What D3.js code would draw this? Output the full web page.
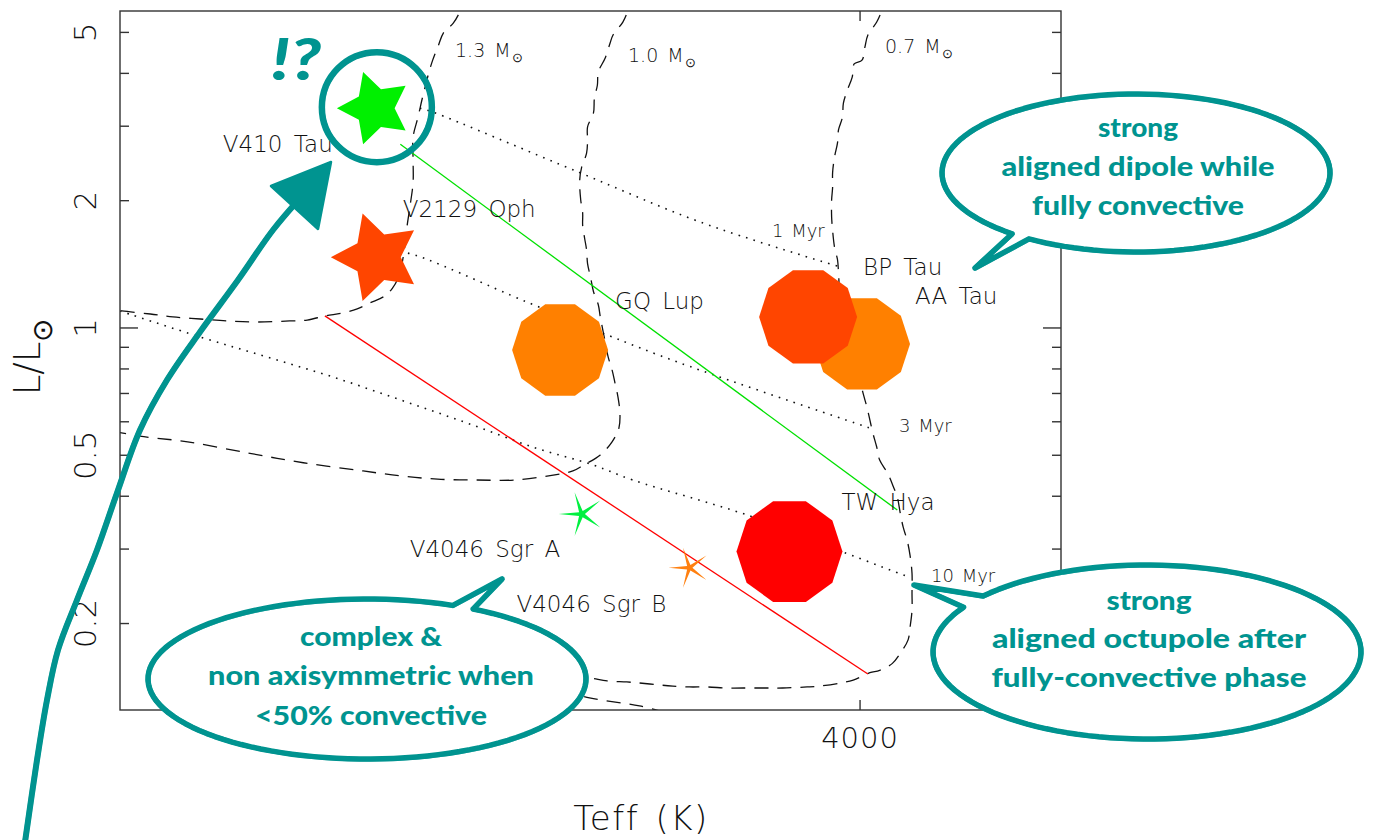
<!DOCTYPE html>
<html><head><meta charset="utf-8">
<script src="https://cdn.jsdelivr.net/npm/d3@7"></script>
<style>body{margin:0;background:#fff}svg{display:block}</style>
</head><body>
<svg id="c" width="1373" height="840"></svg>
<script>
// ================= DATA =================
const yTickValues = [0.2,0.3,0.4,0.5,0.6,0.7,0.8,0.9,1,2,3,4,5];
const yTickLabels = ["0.2","0.5","1","2","5"];
const yMajorTicks = [1];
const xTickValues = [4000];
const xTickLabels = ["4000"];

// stars: name, Teff (K), L/Lsun
const starNames = ["AA Tau","BP Tau","GQ Lup","TW Hya","V410 Tau","V2129 Oph","V4046 Sgr A","V4046 Sgr B"];
const starTeff  = [3998, 4053, 4306, 4072, 4495, 4493, 4284, 4174];
const starLum   = [0.917, 1.062, 0.887, 0.296, 3.31, 1.47, 0.363, 0.271];
const starShape = ["poly","poly","poly","poly","star","star","thin","thin"];
const starColor = ["#ff8000","#ff4500","#ff8000","#ff0000","#00f000","#ff4500","#00f040","#ff8010"];

// evolutionary tracks [Teff, L]
const trackLabels = ["1.3 M","1.0 M","0.7 M"];
const track13 = [[4403,6.2],[4408,5.62],[4415,5.26],[4425,4.99],[4430,4.67],[4436,4.30],[4440,4.01],[4444,3.69],[4447,3.46],[4451,3.15],[4456,2.83],[4456,2.50],[4456,2.21],[4459,1.95],[4462,1.75],[4465,1.53],[4470,1.335],[4477,1.243],[4485,1.19],[4500,1.146],[4513,1.109],[4528,1.085],[4546,1.068],[4564,1.044],[4582,1.039],[4615,1.033],[4645,1.039],[4673,1.050],[4701,1.062],[4724,1.079],[4753,1.097],[4770,1.11]];
const track10 = [[4232,6.2],[4237,5.62],[4242,5.29],[4252,4.93],[4255,4.72],[4260,4.35],[4267,4.03],[4268,3.75],[4271,3.50],[4272,3.22],[4278,2.99],[4278,2.78],[4279,2.59],[4284,2.40],[4286,2.24],[4285,2.01],[4283,1.87],[4283,1.75],[4281,1.63],[4279,1.53],[4278,1.42],[4275,1.32],[4272,1.22],[4267,1.133],[4265,1.062],[4261,0.952],[4257,0.854],[4253,0.796],[4250,0.741],[4247,0.687],[4245,0.630],[4246,0.580],[4253,0.538],[4265,0.501],[4282,0.474],[4293,0.459],[4313,0.449],[4352,0.437],[4391,0.437],[4431,0.439],[4469,0.447],[4507,0.459],[4568,0.480],[4624,0.506],[4686,0.538],[4735,0.555],[4770,0.575]];
const track07 = [[3973,6.2],[3978,5.62],[3983,5.29],[3992,4.93],[3995,4.62],[3998,4.30],[4006,4.21],[4008,3.92],[4013,3.65],[4017,3.40],[4018,3.15],[4022,2.94],[4023,2.74],[4026,2.54],[4028,2.33],[4028,2.15],[4029,2.01],[4029,1.83],[4028,1.70],[4026,1.55],[4023,1.45],[4022,1.357],[4020,1.165],[4012,0.989],[4005,0.840],[3997,0.702],[3993,0.650],[3990,0.606],[3987,0.565],[3983,0.523],[3980,0.487],[3972,0.454],[3966,0.421],[3962,0.398],[3959,0.365],[3956,0.338],[3952,0.315],[3949,0.290],[3947,0.263],[3947,0.236],[3947,0.215],[3949,0.196],[3951,0.183],[3959,0.170],[3967,0.161],[3980,0.155],[3990,0.153],[4007,0.147],[4020,0.1447],[4041,0.1423],[4054,0.1416],[4079,0.1408],[4095,0.1408],[4119,0.1408],[4136,0.1408],[4156,0.1416],[4174,0.1416],[4191,0.1423],[4204,0.1431],[4225,0.1447],[4238,0.1455],[4258,0.1463],[4276,0.1487],[4306,0.1511],[4347,0.155]];
const trackLow = [[4327,0.143],[4276,0.1334],[4225,0.1277],[4194,0.1223]];

// isochrones [Teff, L]
const isoLabels = ["1 Myr","3 Myr","10 Myr"];
const iso1  = [[4449,3.31],[4436,3.24],[4286,2.33],[4163,1.78],[4023,1.40]];
const iso3  = [[4469,1.497],[4462,1.504],[4340,1.152],[4258,0.963],[4184,0.827],[3990,0.580]];
const iso10 = [[4755,1.097],[4673,0.952],[4605,0.854],[4538,0.766],[4469,0.676],[4401,0.596],[4334,0.523],[4272,0.474],[4232,0.437],[4115,0.361],[4017,0.295],[3951,0.258]];

// straight reference lines [Teff, L]
const greenLine = [[4469,2.72],[3962,0.371]];
const redLine   = [[4546,1.068],[3992,0.152]];

// annotation texts
const bubbleTR = ["strong","aligned dipole while","fully convective"];
const bubbleBR = ["strong","aligned octupole after","fully-convective phase"];
const bubbleBL = ["complex &","non axisymmetric when","<50% convective"];

// ================= LAYOUT / STYLE =================
const TEAL = "#009490";
const FR = {l:120, r:1061, t:11, b:710};
const LABEL_FONT = "'DejaVu Sans', 'Liberation Sans', sans-serif";
const NOTE_FONT = "Lato, 'Open Sans', sans-serif";
const markerSize = [48, 49, 48, 53, 38, 46, 23, 21];
const labelOffset = [[53,-40],[55,-42],[55,-41],[52,-42],[-152,44],[26,-40],[-172,43],[-173,44]];
const trackLabelPos = [[455,57],[628,62],[885,53]];
const isoLabelPos = [[772,237],[899,432],[931,582]];

const svg = d3.select("#c");
const x = d3.scaleLinear().domain([4755,3795]).range([FR.l, FR.r]);
const y = d3.scaleLog().domain([0.1249,5.618]).range([FR.b, FR.t]);

svg.append("defs").append("clipPath").attr("id","plot")
  .append("rect").attr("x",FR.l).attr("y",FR.t).attr("width",FR.r-FR.l).attr("height",FR.b-FR.t);

const line = d3.line().x(d=>x(d[0])).y(d=>y(d[1])).curve(d3.curveCatmullRom.alpha(0.5));
const plot = svg.append("g").attr("clip-path","url(#plot)");

[track13, track10, track07, trackLow].forEach(t=>{
  plot.append("path").attr("d",line(t)).attr("fill","none")
    .attr("stroke","#111").attr("stroke-width",1.3).attr("stroke-dasharray","14,9");
});
[iso1, iso3, iso10].forEach(t=>{
  plot.append("path").attr("d",line(t)).attr("fill","none")
    .attr("stroke","#111").attr("stroke-width",1.6).attr("stroke-dasharray","1.6,6.2");
});
const sline = d3.line().x(d=>x(d[0])).y(d=>y(d[1]));
plot.append("path").attr("d",sline(greenLine)).attr("stroke","#00e000").attr("stroke-width",1.3).attr("fill","none");
plot.append("path").attr("d",sline(redLine)).attr("stroke","#ff0000").attr("stroke-width",1.3).attr("fill","none");

function starPts(cx,cy,R,ratio){
  const p=[];
  for(let k=0;k<10;k++){
    const a=Math.PI + k*Math.PI/5;
    const r = k%2===0 ? R : R*ratio;
    p.push([cx+r*Math.cos(a), cy+r*Math.sin(a)]);
  }
  return p;
}
function polyPts(cx,cy,R){
  const p=[];
  for(let k=0;k<10;k++){const a=k*Math.PI/5; p.push([cx+R*Math.cos(a), cy+R*Math.sin(a)]);}
  return p;
}
const order = d3.range(starNames.length);
order.forEach(i=>{
  const cx=x(starTeff[i]), cy=y(starLum[i]), R=markerSize[i];
  let pts;
  if(starShape[i]==="poly") pts=polyPts(cx,cy,R);
  else if(starShape[i]==="star") pts=starPts(cx,cy,R,0.52);
  else pts=starPts(cx,cy,R,0.14);
  svg.append("polygon").attr("points",pts.map(p=>p.join(",")).join(" ")).attr("fill",starColor[i]);
});

order.forEach(i=>{
  svg.append("text").attr("x",x(starTeff[i])+labelOffset[i][0]).attr("y",y(starLum[i])+labelOffset[i][1])
    .attr("font-family",LABEL_FONT).attr("font-weight",200).attr("font-size",23).attr("fill","#111")
    .attr("word-spacing",4).text(starNames[i]);
});
trackLabels.forEach((t,i)=>{
  const tx = svg.append("text").attr("x",trackLabelPos[i][0]).attr("y",trackLabelPos[i][1])
    .attr("font-family",LABEL_FONT).attr("font-weight",200).attr("font-size",19).attr("fill","#111").attr("word-spacing",3);
  tx.append("tspan").text(t);
  tx.append("tspan").attr("font-size",13).attr("dy",5).attr("dx",1).text("\u2299");
});
isoLabels.forEach((t,i)=>{
  svg.append("text").attr("x",isoLabelPos[i][0]).attr("y",isoLabelPos[i][1])
    .attr("font-family",LABEL_FONT).attr("font-weight",200).attr("font-size",18).attr("fill","#111").attr("word-spacing",2).text(t);
});

// axes frame
const ax = svg.append("g").attr("stroke","#333").attr("stroke-width",1.4).attr("fill","none");
ax.append("rect").attr("x",FR.l).attr("y",FR.t).attr("width",FR.r-FR.l).attr("height",FR.b-FR.t);
yTickValues.forEach(v=>{
  const len = yMajorTicks.includes(v)?18:9;
  ax.append("line").attr("x1",FR.l).attr("x2",FR.l+len).attr("y1",y(v)).attr("y2",y(v));
  ax.append("line").attr("x1",FR.r).attr("x2",FR.r-len).attr("y1",y(v)).attr("y2",y(v));
});
xTickValues.forEach(v=>{
  ax.append("line").attr("x1",x(v)).attr("x2",x(v)).attr("y1",FR.b).attr("y2",FR.b-10);
  ax.append("line").attr("x1",x(v)).attr("x2",x(v)).attr("y1",FR.t).attr("y2",FR.t+10);
});
yTickLabels.forEach(s=>{
  svg.append("text").attr("transform",`translate(96,${y(+s)}) rotate(-90)`).attr("text-anchor","middle")
    .attr("font-family",LABEL_FONT).attr("font-weight",200).attr("font-size",31).attr("fill","#111").text(s);
});
xTickLabels.forEach((s,i)=>{
  svg.append("text").attr("x",x(xTickValues[i])).attr("y",748).attr("text-anchor","middle")
    .attr("font-family",LABEL_FONT).attr("font-weight",200).attr("font-size",29).attr("letter-spacing",1).attr("fill","#111").text(s);
});
const yl = svg.append("text").attr("transform","translate(40,357) rotate(-90)").attr("text-anchor","middle")
  .attr("font-family",LABEL_FONT).attr("font-weight",200).attr("font-size",37).attr("fill","#111");
yl.append("tspan").text("L/L");
yl.append("tspan").attr("font-size",28).attr("dy",12).text("\u2299");
svg.append("text").attr("x",641).attr("y",830).attr("text-anchor","middle")
  .attr("font-family",LABEL_FONT).attr("font-weight",200).attr("font-size",34).attr("letter-spacing",1.5).attr("word-spacing",4)
  .attr("fill","#111").text("Teff (K)");

// ============ teal hand-drawn annotations ============
const notes = svg.append("g");
function sketch(d, w, fill){
  if(fill) notes.append("path").attr("d",d).attr("fill",fill).attr("stroke","none");
  const offs=[[0,0,w,1],[1.8,-1.2,1.3,0.8],[-1.6,1.3,1.2,0.8],[0.9,2.1,1.0,0.65],[-2.0,-0.9,1.0,0.65],[2.2,0.6,0.8,0.5]];
  offs.forEach(o=>{
    notes.append("path").attr("d",d).attr("transform",`translate(${o[0]},${o[1]})`)
      .attr("fill","none").attr("stroke",TEAL).attr("stroke-width",o[2]).attr("stroke-opacity",o[3])
      .attr("stroke-linejoin","round").attr("stroke-linecap","round");
  });
}
function bubble(cx,cy,rx,ry,gapA,gapB,tip){
  const pts=[];
  const a0=gapB, a1=gapA+360;
  for(let a=a0;a<=a1+0.001;a+=3){
    const r=a*Math.PI/180; pts.push([cx+rx*Math.cos(r), cy+ry*Math.sin(r)]);
  }
  const rr=a1*Math.PI/180; pts.push([cx+rx*Math.cos(rr), cy+ry*Math.sin(rr)]);
  pts.push(tip);
  return d3.line().curve(d3.curveLinearClosed)(pts);
}
sketch(bubble(1136,173,194,79,123.5,129.7,[975,268]), 5.5, "#fff");
sketch(bubble(1147,652,214,87,211,220,[914,585]), 5.5, "#fff");
sketch(bubble(367,679,219,80,293.1,299,[502,579]), 5.5, "#fff");

function noteText(lines, cx, baselines, widths){
  lines.forEach((t,i)=>{
    notes.append("text").attr("x",cx).attr("y",baselines[i]).attr("text-anchor","middle")
      .attr("font-family",NOTE_FONT).attr("font-weight",900).attr("font-size",27).attr("fill",TEAL)
      .attr("textLength",widths[i]).attr("lengthAdjust","spacingAndGlyphs").text(t);
  });
}
noteText(bubbleTR, 1138, [137,176,215], [80,273,212]);
noteText(bubbleBR, 1149, [610,648,687], [85,314,315]);
noteText(bubbleBL, 371, [646,685,725], [142,326,232]);

// circle around V410 Tau
const cp = d3.path();
const ccx = x(starTeff[4])+2, ccy = y(starLum[4])-1;
cp.moveTo(ccx+55, ccy); cp.arc(ccx, ccy, 55, 0, 2*Math.PI);
sketch(cp.toString(), 6.5, null);

// big curved arrow
const arrowPts=[[25,842],[37,760],[47,700],[58,650],[77,600],[97,550],[117,493],[140,430],[167,380],[200,332],[238,280],[273,230],[302,196]];
sketch(d3.line().curve(d3.curveCatmullRom)(arrowPts), 6, null);
const head=[[331,162],[271,186],[318,229]];
notes.append("polygon").attr("points",head.map(p=>p.join(",")).join(" ")).attr("fill",TEAL).attr("stroke",TEAL).attr("stroke-width",2.5).attr("stroke-linejoin","round");

// "!?"
notes.append("text").attr("x",271).attr("y",80).attr("font-family",NOTE_FONT).attr("font-weight",900)
  .attr("font-style","italic").attr("font-size",58).attr("fill",TEAL)
  .attr("textLength",50).attr("lengthAdjust","spacingAndGlyphs").text("!?");
</script>
</body></html>
